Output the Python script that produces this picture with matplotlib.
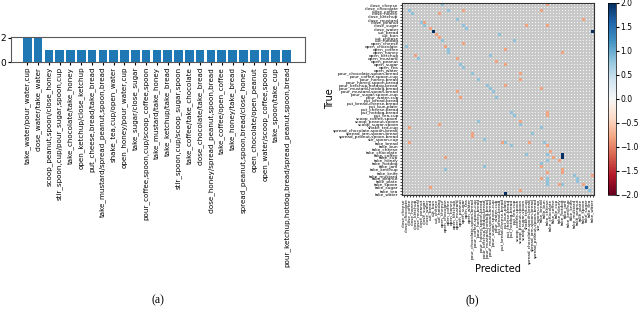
import numpy as np
import matplotlib
matplotlib.use('Agg')
import matplotlib.pyplot as plt

# ---- (a) bar chart data ----
pair_labels = [
    'take_water/pour_water,cup', 'close_water/take_water',
    'scoop_peanut,spoon/close_honey', 'stir_spoon,cup/pour_sugar,spoon,cup',
    'take_chocolate/take_honey', 'open_ketchup/close_ketchup',
    'put_cheese,bread/take_bread', 'take_mustard/spread_peanut,spoon,bread',
    'shake_tea,cup/open_water', 'open_honey/pour_water,cup',
    'take_sugar/close_sugar', 'pour_coffee,spoon,cup/scoop_coffee,spoon',
    'take_mustard/take_honey', 'take_ketchup/take_bread',
    'stir_spoon,cup/scoop_sugar,spoon', 'take_coffee/take_chocolate',
    'close_chocolate/take_bread', 'close_honey/spread_peanut,spoon,bread',
    'take_coffee/open_coffee', 'take_honey/take_bread',
    'spread_peanut,spoon,bread/close_honey', 'open_chocolate/open_peanut',
    'open_water/scoop_coffee,spoon', 'take_spoon/take_cup',
    'pour_ketchup,hotdog,bread/spread_peanut,spoon,bread']
pair_counts = [2, 2] + [1] * 23

# ---- (b) difference matrix data ----
actions = [
    'close_cheese', 'close_chocolate', 'close_coffee', 'close_honey', 'close_ketchup',
    'close_mustard', 'close_peanut', 'close_sugar', 'close_water',
    'cut_bread', 'cut_bun', 'cut_cheese', 'cut_hotdog',
    'open_cheese', 'open_chocolate', 'open_coffee', 'open_honey', 'open_ketchup',
    'open_mustard', 'open_peanut', 'open_sugar', 'open_tea', 'open_water',
    'pour_chocolate,spoon,bread', 'pour_coffee,spoon,cup', 'pour_honey,bread',
    'pour_honey,spoon,bread', 'pour_ketchup,hotdog,bread', 'pour_mustard,hotdog,bread',
    'pour_mustard,spoon,bread', 'pour_sugar,spoon,cup', 'pour_water,cup',
    'put_bread,bread', 'put_bread,cheese,bread', 'put_bun,plate', 'put_cheese,bread',
    'put_hotdog,bread', 'put_tea,cup',
    'scoop_coffee,spoon', 'scoop_peanut,spoon', 'scoop_sugar,spoon', 'shake_tea,cup',
    'spread_chocolate,spoon,bread', 'spread_jam,spoon,bread', 'spread_peanut,spoon,bread',
    'stir_spoon,cup',
    'take_bread', 'take_bun', 'take_cheese', 'take_chocolate', 'take_coffee', 'take_cup',
    'take_honey', 'take_hotdog', 'take_jam', 'take_ketchup', 'take_knife', 'take_mustard',
    'take_peanut', 'take_plate', 'take_spoon', 'take_sugar', 'take_tea', 'take_water']

nz_rows = [0, 2, 2, 2, 3, 3, 5, 6, 6, 7, 7, 8, 8, 9, 10, 11, 12, 13, 14, 14, 15, 16, 17, 18,
           18, 20, 21, 23, 25, 29, 31, 39, 40, 41, 44, 46, 51, 55, 61,
           0, 2, 5, 7, 7, 9, 10, 12, 15, 16, 17, 19, 20, 23, 25, 27, 27, 28, 28, 29, 31,
           36, 37, 36, 37, 39, 40, 41, 43, 43, 45, 46, 46, 47, 46, 46, 47, 49, 50, 50, 51,
           50, 51, 52, 52, 54, 53, 54, 56, 55, 56, 57, 58, 59, 57, 58, 58, 59, 60, 60, 60,
           60, 61, 62, 62, 63]
nz_cols = [13, 2, 15, 20, 3, 12, 18, 6, 7, 7, 20, 21, 9, 10, 11, 12, 13, 20, 1, 14, 15, 15, 4, 5,
           18, 19, 20, 23, 25, 18, 19, 25, 12, 2, 23, 2, 14, 14, 9,
           48, 46, 60, 41, 48, 63, 32, 37, 34, 53, 29, 31, 34, 39, 39, 28, 34, 29, 46, 30, 31,
           36, 37, 48, 48, 39, 39, 46, 23, 43, 27, 33, 34, 36, 42, 47, 48, 49, 41, 48, 50,
           53, 53, 52, 48, 27, 46, 46, 48, 53, 53, 57, 58, 58, 63, 46, 48, 48, 48, 52, 53,
           60, 61, 62, 39, 34]
nz_vals = [0.8, 0.8, 0.8, -0.8, 0.8, -0.8, 0.8, 0.8, -0.8, 0.8, 0.8, 0.8, -0.8, 2, -0.8, -0.8,
           0.8, -0.8, 0.8, -0.8, 0.8, 0.8, -0.8, 0.8, -0.8, 0.8, 0.8, 0.8, 0.8, -0.8, -0.8, 0.8,
           -0.8, -0.8, -0.8, -0.8, -0.8, 0.8, -0.8,
           -0.8, -0.8, -0.8, -0.8, -0.8, 2, 0.8, 0.8, -0.8, -0.8, 0.8, -0.8, -0.8, -0.8, -0.8,
           0.8, -0.8, 0.8, -0.8, 0.8, 0.8,
           0.8, 0.8, -0.8, -0.8, -0.8, 0.8, 0.8, -0.8, 0.8, 0.8, -0.8, 0.8, 0.8, -0.8, 0.8, -0.8,
           -0.8, 0.8, 0.8, -0.8,
           2, 2, -0.8, 0.8, 0.8, 0.8, -0.8, -0.8, -0.8, -0.8, 0.8, 0.8, 0.8, -0.8, -0.8, 0.8,
           0.8, 0.8, -0.8, 0.8, -0.8, 1.6, 0.8, -0.8, 2]

n = len(actions)
diff = np.zeros((n, n))
diff[nz_rows, nz_cols] = nz_vals

W, H = 640, 315
fig = plt.figure(figsize=(W / 100, H / 100), dpi=100)

# bar chart
ax1 = fig.add_axes([11 / W, 1 - 62 / H, 294 / W, 25 / H])
xs = np.arange(len(pair_labels))
ax1.bar(xs, pair_counts, width=0.8, color='#1f77b4')
ax1.set_xlim(-1.5, len(pair_labels) + 0.7)
ax1.set_ylim(0, 2.05)
ax1.set_yticks([0, 2])
ax1.set_yticklabels(['0', '2'], fontsize=6.5)
ax1.set_xticks(xs)
ax1.set_xticklabels(pair_labels, rotation=90, fontsize=5.15)
ax1.tick_params(axis='x', length=2, pad=1.5)
ax1.tick_params(axis='y', length=2, pad=1.5)
for s in ax1.spines.values():
    s.set_color('0.35')
fig.text(158 / W, 1 - 300 / H, '(a)', fontsize=8.5, family='Liberation Serif',
         ha='center', va='center')

# difference heatmap: gray grid first, then the non-zero cells on top
ax2 = fig.add_axes([402 / W, 1 - 195 / H, 192 / W, 192 / H])
ax2.pcolormesh(np.zeros((n, n)), cmap='RdBu', vmin=-2, vmax=2,
               edgecolors='#c8c8c8', linewidth=0.35)
mesh = ax2.pcolormesh(np.ma.masked_equal(diff, 0), cmap='RdBu', vmin=-2, vmax=2,
                      edgecolors='none')
ax2.set_xlim(0, n)
ax2.set_ylim(n, 0)
ax2.set_xticks(np.arange(n) + 0.5)
ax2.set_yticks(np.arange(n) + 0.5)
ax2.set_xticklabels(actions, rotation=90, fontsize=3.1)
ax2.set_yticklabels(actions, fontsize=3.1)
ax2.tick_params(length=1.5, width=0.5, pad=1)
for s in ax2.spines.values():
    s.set_linewidth(0.8)
    s.set_color('0.2')
ax2.set_ylabel('True', fontsize=7)
ax2.set_xlabel('Predicted', fontsize=7)
ax2.yaxis.set_label_coords(-0.35, 0.5)
ax2.xaxis.set_label_coords(0.5, -0.36)

cax = fig.add_axes([608 / W, 1 - 195 / H, 8 / W, 192 / H])
cb = fig.colorbar(mesh, cax=cax)
cb.set_ticks(np.arange(-2, 2.01, 0.5))
cb.ax.tick_params(labelsize=5.5, length=2, pad=1)
cb.outline.set_linewidth(0.5)

fig.text(472 / W, 1 - 300 / H, '(b)', fontsize=8.5, family='Liberation Serif',
         ha='center', va='center')

fig.savefig('out.png', dpi=100)
